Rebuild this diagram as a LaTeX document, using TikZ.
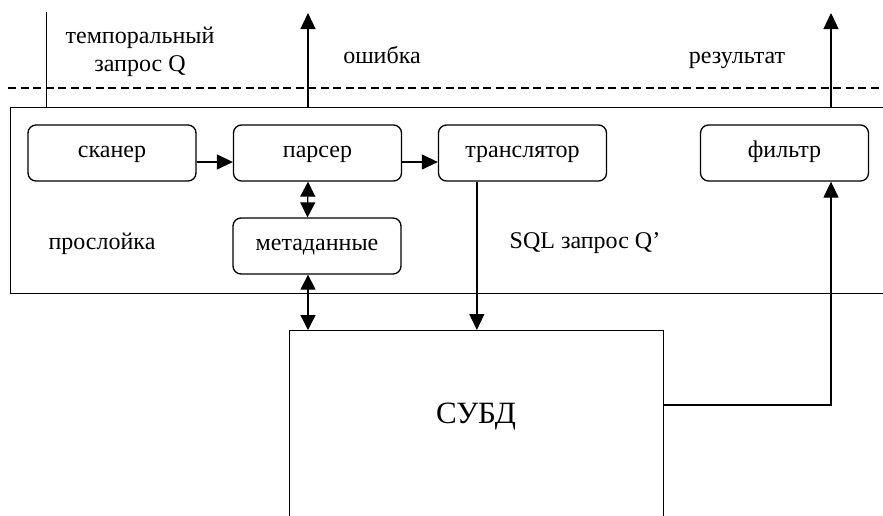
\documentclass[tikz,border=0pt]{standalone}
\usepackage{fontspec}
\setmainfont{Liberation Serif}
\usetikzlibrary{arrows.meta,calc}
\begin{document}
\begin{tikzpicture}[x=1pt,y=-1pt,
  line width=1.3pt,
  arr/.style={-{Triangle[length=16pt,width=15pt]}},
  darr/.style={{Triangle[length=15pt,width=15pt]}-{Triangle[length=15pt,width=15pt]}},
  module/.style={draw,rounded corners=8pt,minimum width=168pt,minimum height=56pt,inner sep=0pt,text height=8pt,text depth=0pt,font=\fontsize{24}{28}\selectfont},
  lbl/.style={inner sep=0pt,anchor=base,font=\fontsize{24}{28}\selectfont}]
\useasboundingbox (0,0) rectangle (883,515);
\clip (0,0) rectangle (883,515);
\fill[white] (0,0) rectangle (883,515);
% outer layer box (right edge lies outside the picture)
\node[draw,minimum width=890pt,minimum height=186pt,inner sep=0pt,anchor=north west] (layer) at (10,107) {};
% DBMS box (bottom edge lies outside the picture)
\node[draw,line width=1.1pt,minimum width=374pt,minimum height=210pt,inner sep=0pt,anchor=north west] (dbms) at (289,330) {};
\node[lbl,font=\fontsize{31}{34}\selectfont] (dbmslbl) at (476,423) {СУБД};
% dashed boundary
\coordinate (dl) at (8,88);
\coordinate (dr) at (883,88);
\draw[line width=1.2pt,dash pattern=on 8pt off 4.5pt] (dl) -- (dr);
% modules
\node[module] (scanner) at (112,153) {сканер};
\node[module] (parser) at (317.5,153) {парсер};
\node[module] (trans) at (522.5,153) {транслятор};
\node[module] (filter) at (784.5,153) {фильтр};
\node[module] (meta) at (317,246) {метаданные};
% labels
\node[lbl,align=center] (qlbl) at (140,71) {темпоральный\\запрос Q};
\node[lbl] (errlbl) at (382,63) {ошибка};
\node[lbl] (reslbl) at (737,63) {результат};
\node[lbl] (laylbl) at (102,249) {прослойка};
\node[lbl] (sqllbl) at (585,248) {SQL запрос Q’};
% free ends
\coordinate (qin) at (46.5,12);
\coordinate (errtop) at (308,13);
\coordinate (restop) at (831,13);
\coordinate (dbout) at (663,405);
% connectors
\draw (qin) -- (qin |- layer.north);
\draw[arr] (errtop |- layer.north) -- (errtop);
\draw[arr] (restop |- layer.north) -- (restop);
\draw[arr] ([yshift=-9pt]scanner.east) -- ([yshift=-9pt]parser.west);
\draw[arr] ([yshift=-9pt]parser.east) -- ([yshift=-9pt]trans.west);
\draw[darr] ([xshift=-9.5pt]parser.south) -- ([xshift=-9.5pt]meta.north);
\draw[darr] ([xshift=-9pt]meta.south) -- ([xshift=-9pt]meta.south |- dbms.north);
\draw[arr] ([xshift=39pt]trans.south west) -- ([xshift=39pt]trans.south west |- dbms.north);
\draw[arr] (dbout) -| ([xshift=46.5pt]filter.south);
\end{tikzpicture}
\end{document}
